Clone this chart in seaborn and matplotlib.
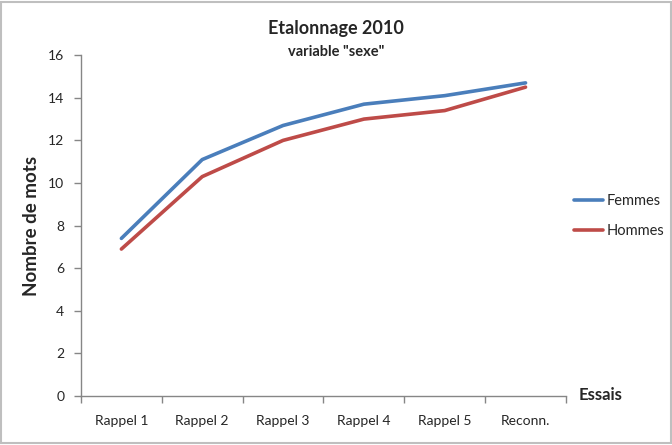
import pandas as pd
import seaborn as sns
import matplotlib.pyplot as plt
from matplotlib.patches import Rectangle

# Données
essais = ['Rappel 1', 'Rappel 2', 'Rappel 3', 'Rappel 4', 'Rappel 5', 'Reconn.']
femmes = [7.4, 11.1, 12.7, 13.7, 14.1, 14.7]
hommes = [6.9, 10.3, 12.0, 13.0, 13.4, 14.5]

df = pd.DataFrame({
    'Essai': essais * 2,
    'pos': list(range(len(essais))) * 2,
    'Nombre de mots': femmes + hommes,
    'Sexe': ['Femmes'] * len(essais) + ['Hommes'] * len(essais),
})

sns.set_style('white')
plt.rcParams['font.family'] = ['Lato', 'DejaVu Sans']

fig = plt.figure(figsize=(6.72, 4.45), dpi=100)
ax = fig.add_axes([0.1205, 0.110, 0.7217, 0.766])

sns.lineplot(data=df, x='pos', y='Nombre de mots', hue='Sexe',
             palette={'Femmes': '#4A7EBB', 'Hommes': '#BE4B48'},
             linewidth=2.6, ax=ax)

# Axes
ax.set_xlim(-0.5, len(essais) - 0.5)
ax.set_ylim(0, 16)
ax.set_yticks(range(0, 17, 2))
ax.set_xticks([i - 0.5 for i in range(len(essais) + 1)])
ax.set_xticklabels([])
ax.set_xticks(range(len(essais)), minor=True)
ax.set_xticklabels(essais, minor=True, fontsize=10)
ax.tick_params(axis='x', which='major', direction='out', length=5, color='#868686', width=1, bottom=True)
ax.tick_params(axis='x', which='minor', length=0, pad=14)
ax.tick_params(axis='y', direction='out', length=5, color='#868686', width=1, left=True, labelsize=10, pad=7)

for s in ['top', 'right']:
    ax.spines[s].set_visible(False)
for s in ['left', 'bottom']:
    ax.spines[s].set_color('#868686')
    ax.spines[s].set_linewidth(1)

ax.set_xlabel('')
ax.set_ylabel('Nombre de mots', fontsize=13.5, fontweight='bold', labelpad=6)
fig.text(0.893, 0.113, 'Essais', fontsize=12, fontweight='bold', ha='center', va='center')

# Titres
fig.text(0.5, 0.937, 'Etalonnage 2010', fontsize=13, fontweight='bold', ha='center', va='center')
fig.text(0.5, 0.883, 'variable "sexe"', fontsize=10.5, fontweight='bold', ha='center', va='center')

# Légende
leg = ax.legend(loc='center left', bbox_to_anchor=(0.99, 0.528), frameon=False,
                fontsize=10.5, handlelength=2.0, handletextpad=0.2, labelspacing=1.15)
for l in leg.get_lines():
    l.set_linewidth(2.6)

# Bordure
fig.patches.append(Rectangle((0.002, 0.004), 0.996, 0.992, transform=fig.transFigure,
                             fill=False, edgecolor='#BFBFBF', linewidth=1.5))

fig.savefig('out.png', dpi=100)
